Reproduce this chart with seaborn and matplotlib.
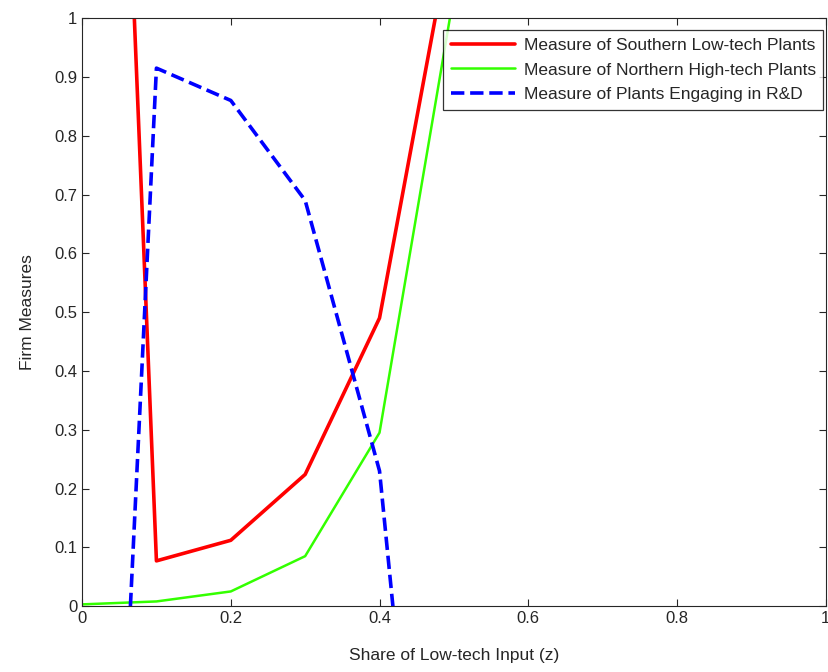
import matplotlib
matplotlib.use('Agg')
import matplotlib.pyplot as plt
import seaborn as sns

# valeurs
z_south = [0.05, 0.1, 0.2, 0.3, 0.4, 0.5]
south = [1.63, 0.077, 0.112, 0.224, 0.49, 1.17]

z_north = [0.0, 0.1, 0.2, 0.3, 0.4, 0.5]
north = [0.003, 0.008, 0.025, 0.085, 0.295, 1.04]

z_rd = [0.065, 0.1, 0.2, 0.3, 0.4, 0.418]
rd = [0.0, 0.915, 0.86, 0.69, 0.23, 0.0]

sns.set_style('ticks')
plt.rcParams['font.family'] = ['Liberation Sans', 'DejaVu Sans']
plt.rcParams['xtick.direction'] = 'in'
plt.rcParams['ytick.direction'] = 'in'

fig = plt.figure(figsize=(8.29, 6.72), dpi=100)
ax = fig.add_axes([0.099, 0.098, 0.897, 0.875])

sns.lineplot(x=z_south, y=south, ax=ax, color='#ff0000', linewidth=2.6,
             label='Measure of Southern Low-tech Plants', sort=False)
sns.lineplot(x=z_north, y=north, ax=ax, color='#33ff00', linewidth=1.8,
             label='Measure of Northern High-tech Plants', sort=False)
sns.lineplot(x=z_rd, y=rd, ax=ax, color='#0000ff', linewidth=2.6, linestyle='--',
             dashes=(4, 2.5), label='Measure of Plants Engaging in R&D', sort=False)

ax.set_xlim(0, 1)
ax.set_ylim(0, 1)
ax.set_xticks([0, 0.2, 0.4, 0.6, 0.8, 1])
ax.set_xticklabels(['0', '0.2', '0.4', '0.6', '0.8', '1'])
ax.set_yticks([i / 10 for i in range(11)])
ax.set_yticklabels(['0'] + ['0.%d' % i for i in range(1, 10)] + ['1'])
ax.tick_params(labelsize=12, top=True, right=True, length=5, width=0.8)
for s in ax.spines.values():
    s.set_linewidth(0.8)
    s.set_visible(True)

ax.set_xlabel('Share of Low-tech Input (z)', fontsize=12.5, labelpad=16)
ax.set_ylabel('Firm Measures', fontsize=12.5, labelpad=14)

leg = ax.legend(loc='upper right', bbox_to_anchor=(0.997, 0.98), fontsize=12.5,
                frameon=True, fancybox=False, edgecolor='black', handlelength=3.7,
                handletextpad=0.5, borderaxespad=0, labelspacing=0.55, borderpad=0.45)
leg.get_frame().set_linewidth(0.9)

fig.savefig('out.png', dpi=100)
